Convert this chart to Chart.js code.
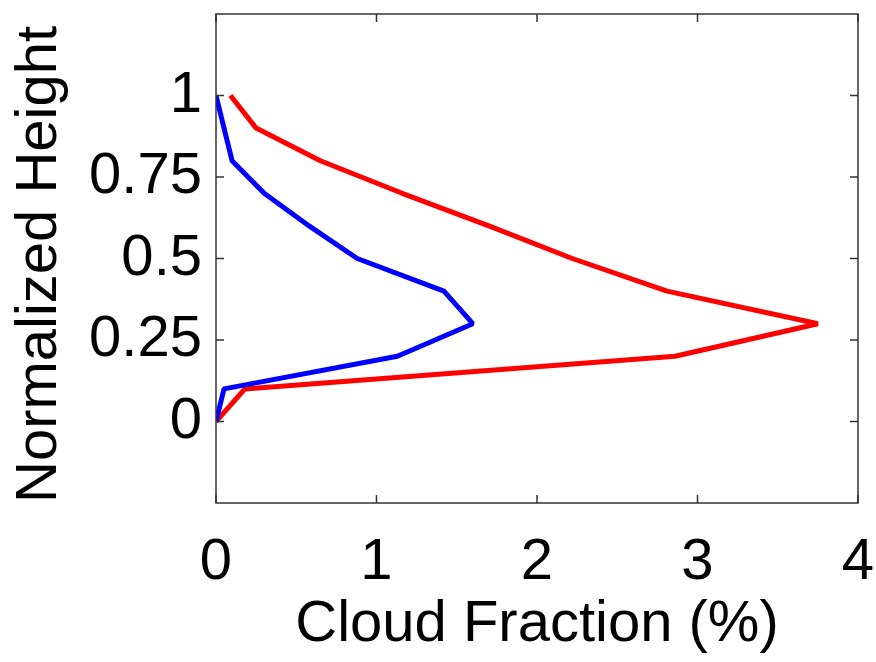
<!DOCTYPE html>
<html>
<head>
<meta charset="utf-8">
<script src="https://cdn.jsdelivr.net/npm/chart.js@4/dist/chart.umd.min.js"></script>
<style>
  html, body { margin: 0; padding: 0; background: #fff; }
  #wrap { width: 876px; height: 662px; }
</style>
</head>
<body>
<div id="wrap"><canvas id="myChart"></canvas></div>
<script>
// blue profile (cloud fraction %, normalized height)
const blueX = [0, 0.05, 0.1, 0.3, 0.58, 0.88, 1.42, 1.6, 1.13, 0.05, 0];
const blueY = [1, 0.9, 0.8, 0.7, 0.6, 0.5, 0.4, 0.3, 0.2, 0.1, 0];

// red profile
const redX = [0.09, 0.25, 0.65, 1.16, 1.7, 2.22, 2.81, 3.75, 2.86, 0.18, 0];
const redY = [1, 0.9, 0.8, 0.7, 0.6, 0.5, 0.4, 0.3, 0.2, 0.1, 0];

// tick labels
const xTicks = [0, 1, 2, 3, 4];
const yTicks = [0, 0.25, 0.5, 0.75, 1];

const xTitle = "Cloud Fraction (%)";
const yTitle = "Normalized Height";

Chart.defaults.font.family = "'Liberation Sans', Arial, sans-serif";
Chart.defaults.color = "#000";

function toPoints(xs, ys) {
  return xs.map((x, i) => ({ x: x, y: ys[i] }));
}

// matlab style box with inward ticks on every side
const boxPlugin = {
  id: "box",
  afterDatasetsDraw(chart) {
    const { ctx, chartArea: a, scales } = chart;
    const len = 8;
    ctx.save();
    ctx.strokeStyle = "#333";
    ctx.lineWidth = 1.5;
    ctx.strokeRect(a.left, a.top, a.right - a.left, a.bottom - a.top);
    ctx.beginPath();
    xTicks.forEach((v) => {
      const px = scales.x.getPixelForValue(v);
      ctx.moveTo(px, a.bottom);
      ctx.lineTo(px, a.bottom - len);
      ctx.moveTo(px, a.top);
      ctx.lineTo(px, a.top + len);
    });
    yTicks.forEach((v) => {
      const py = scales.y.getPixelForValue(v);
      ctx.moveTo(a.left, py);
      ctx.lineTo(a.left + len, py);
      ctx.moveTo(a.right, py);
      ctx.lineTo(a.right - len, py);
    });
    ctx.stroke();
    ctx.restore();
  },
};

const data = {
  datasets: [
    {
      label: "blue",
      data: toPoints(blueX, blueY),
      borderColor: "#0000ff",
      backgroundColor: "#0000ff",
    },
    {
      label: "red",
      data: toPoints(redX, redY),
      borderColor: "#ff0000",
      backgroundColor: "#ff0000",
    },
  ],
};

const config = {
  type: "line",
  data,
  options: {
    responsive: true,
    maintainAspectRatio: false,
    animation: false,
    layout: { padding: { top: 14, right: 18, left: 0, bottom: 0 } },
    elements: {
      line: { borderWidth: 5, tension: 0, borderJoinStyle: "bevel", fill: false },
      point: { radius: 0, hoverRadius: 0 },
    },
    plugins: {
      legend: { display: false },
      tooltip: { enabled: false },
    },
    scales: {
      x: {
        type: "linear",
        position: "bottom",
        min: 0,
        max: 4,
        afterBuildTicks: (s) => { s.ticks = xTicks.map((v) => ({ value: v })); },
        afterFit: (s) => {
          s.height = 159;
          s.paddingLeft = 0;
          s.paddingRight = 0;
        },
        ticks: {
          font: { size: 58 },
          padding: 25,
          maxRotation: 0,
          callback: (v) => String(v),
        },
        grid: { display: false, drawTicks: false },
        border: { display: false },
        title: {
          display: true,
          text: xTitle,
          font: { size: 58 },
          padding: { top: 0, bottom: 2 },
        },
      },
      y: {
        type: "linear",
        min: -0.25,
        max: 1.25,
        afterBuildTicks: (s) => { s.ticks = yTicks.map((v) => ({ value: v })); },
        afterFit: (s) => {
          s.width = 216;
          s.paddingTop = 0;
          s.paddingBottom = 0;
        },
        ticks: {
          font: { size: 58 },
          padding: 14,
          callback: (v) => String(v),
        },
        grid: { display: false, drawTicks: false },
        border: { display: false },
        title: {
          display: true,
          text: yTitle,
          align: "start",
          font: { size: 58 },
          padding: { top: 5, bottom: 0 },
        },
      },
    },
  },
  plugins: [boxPlugin],
};

let myChart = new Chart(document.getElementById("myChart"), config);
</script>
</body>
</html>
